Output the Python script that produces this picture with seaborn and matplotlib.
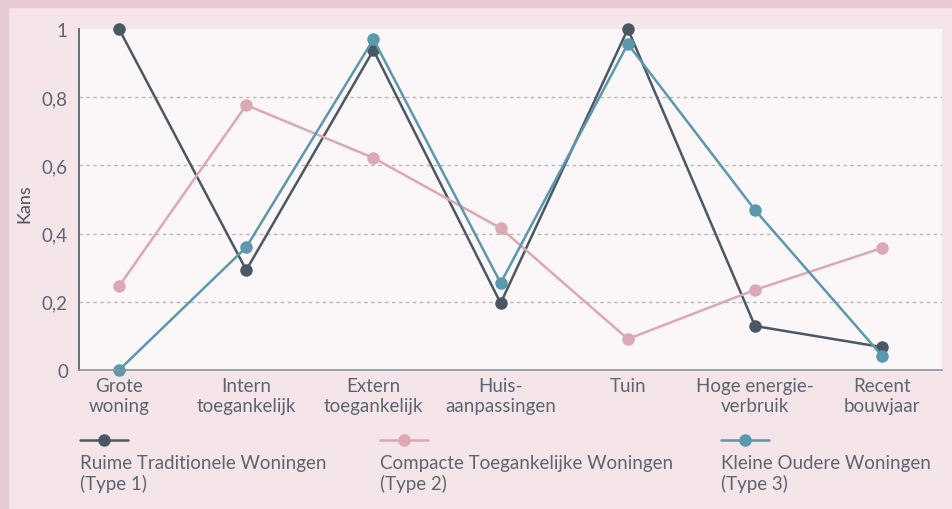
import matplotlib
matplotlib.use("Agg")
import matplotlib.pyplot as plt
from matplotlib.lines import Line2D
from matplotlib.patches import Rectangle
import seaborn as sns
import pandas as pd

# data
categories = ["Grote\nwoning", "Intern\ntoegankelijk", "Extern\ntoegankelijk",
              "Huis-\naanpassingen", "Tuin", "Hoge energie-\nverbruik", "Recent\nbouwjaar"]
type1 = [1.0, 0.293, 0.938, 0.196, 1.0, 0.129, 0.067]
type2 = [0.246, 0.777, 0.622, 0.416, 0.091, 0.235, 0.358]
type3 = [0.0, 0.36, 0.97, 0.255, 0.956, 0.469, 0.041]
series_names = ["Ruime Traditionele Woningen\n(Type 1)",
                "Compacte Toegankelijke Woningen\n(Type 2)",
                "Kleine Oudere Woningen\n(Type 3)"]
colors = ["#4a5866", "#dba8b3", "#5a98ae"]
yticks = [0, 0.2, 0.4, 0.6, 0.8, 1]
ytick_labels = ["0", "0,2", "0,4", "0,6", "0,8", "1"]

rows = []
for name, vals in zip(series_names, [type1, type2, type3]):
    for i, v in enumerate(vals):
        rows.append({"x": i, "kans": v, "type": name})
df = pd.DataFrame(rows)

sns.set_style("white")
plt.rcParams["font.family"] = ["Lato", "DejaVu Sans"]
txt = "#5b6673"

fig = plt.figure(figsize=(9.53, 5.10), dpi=100, facecolor="#f5e4e8")
W, H = 953, 510
# darker border bands
fig.patches.append(Rectangle((0, 1 - 8 / H), 1, 8 / H, transform=fig.transFigure,
                             color="#e8cbd2", zorder=0))
fig.patches.append(Rectangle((0, 0), 8 / W, 1, transform=fig.transFigure,
                             color="#e8cbd2", zorder=0))

ax = fig.add_axes([79 / W, 1 - 371 / H, (942 - 79) / W, (371 - 30) / H])
ax.set_facecolor("#fbf7f8")

sns.lineplot(data=df, x="x", y="kans", hue="type", palette=colors,
             marker="o", markersize=9, markeredgewidth=0, linewidth=1.8,
             legend=False, ax=ax, clip_on=False)
for ln in ax.lines:
    ln.set_clip_on(False)

ax.set_xlim(-0.315, 6.47)
ax.set_ylim(0, 1)
ax.set_yticks(yticks)
ax.set_yticklabels(ytick_labels, fontsize=13.5, color=txt)
ax.set_xticks(range(len(categories)))
ax.set_xticklabels(categories, fontsize=13.5, color=txt, linespacing=1.2)
ax.tick_params(axis="both", length=0, pad=5)
ax.tick_params(axis="y", pad=8)
for y in yticks[1:-1]:
    ax.axhline(y, color="#b9b5b8", lw=1, ls=(0, (2.5, 2.5)), zorder=0)
for s in ["top", "right"]:
    ax.spines[s].set_visible(False)
ax.spines["left"].set_color("#4a5866")
ax.spines["left"].set_linewidth(1.2)
ax.spines["bottom"].set_color("#8a949e")
ax.spines["bottom"].set_linewidth(1.2)
ax.set_xlabel("")
ax.set_ylabel("Kans", fontsize=13, color="#4a5560")
ax.yaxis.set_label_coords(-0.054, 0.49)

# legend: handle above two-line label
leg_x = [80, 380, 721]
for x0, name, c in zip(leg_x, series_names, colors):
    fig.add_artist(Line2D([x0 / W, (x0 + 48) / W], [1 - 441 / H] * 2,
                          transform=fig.transFigure, color=c, lw=1.8))
    fig.add_artist(Line2D([(x0 + 24) / W], [1 - 441 / H], transform=fig.transFigure,
                          color=c, marker="o", markersize=9, markeredgewidth=0))
    fig.text(x0 / W, 1 - 455 / H, name, fontsize=13.5, color=txt, va="top",
             ha="left", linespacing=1.2)

fig.savefig("out.png", dpi=100, facecolor=fig.get_facecolor())
